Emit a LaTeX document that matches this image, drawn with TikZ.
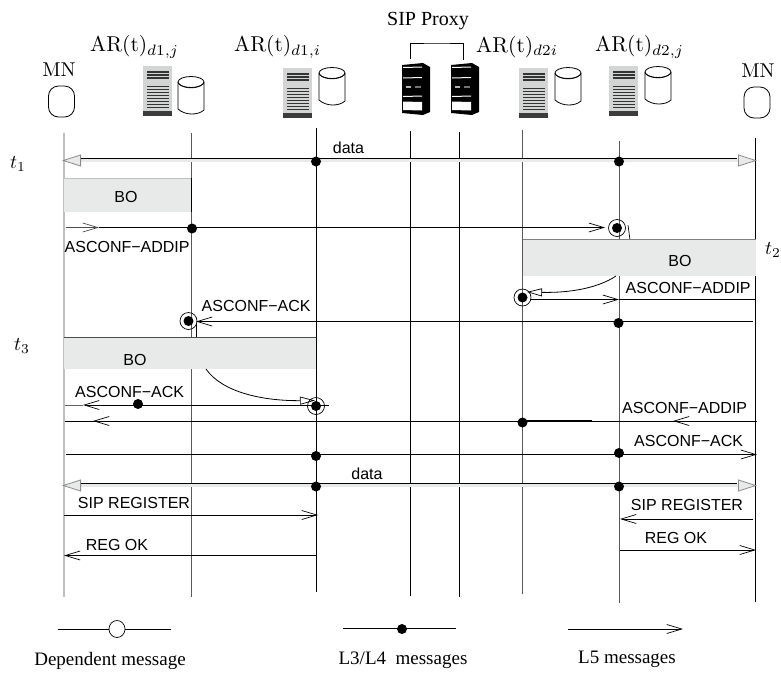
\documentclass[tikz,border=0pt]{standalone}
\usepackage{fontspec}
\usepackage{graphicx}
\usetikzlibrary{arrows.meta,shapes.geometric}
\newfontfamily\arialf{Liberation Sans}
\newfontfamily\timesf{Liberation Serif}
\definecolor{bofill}{HTML}{E8E9E9}
\definecolor{srvlight}{HTML}{D2D5D4}
\definecolor{srvdark}{HTML}{3C3C3C}
\newcommand{\ARlab}[1]{\scalebox{2.15}{AR(t)$_{#1}$}}
\newcommand{\tlab}[1]{\scalebox{1.95}{$t_{#1}$}}
\tikzset{
  every picture/.style={x=1pt,y=1pt},
  life/.style={line width=0.9pt},
  lifeL/.style={line width=1.3pt,color=black!25},
  lifeM/.style={line width=1pt,color=black!65},
  msg/.style={line width=0.8pt},
  open head/.style={-{Straight Barb[length=15pt,width=9pt,line width=0.7pt]}},
  sanslab/.style={font=\arialf\fontsize{16}{18}\selectfont,inner sep=0pt},
  seriflab/.style={font=\timesf\fontsize{19}{22}\selectfont,inner sep=0pt},
  lab/.style={inner sep=0pt},
  dotn/.style={circle,fill=black,minimum width=10pt,minimum height=9pt,inner sep=0pt},
  ringn/.style={circle,draw=black,line width=0.7pt,minimum size=17pt,inner sep=0pt},
  bandline/.style={line width=3.5pt,color=bofill},
  hollowhead/.style={-{Triangle[open,length=15pt,width=8pt,line width=0.7pt]}},
  bigtips/.style={{Triangle[length=19pt,width=12pt,fill=bofill,color=black!45,line width=0.8pt]}-{Triangle[length=19pt,width=12pt,fill=bofill,color=black!45,line width=0.8pt]}},
}
\newcommand{\arserver}[2]{%
  \begin{scope}[shift={(#1,-#2)}]
    \fill[srvlight] (0,0) rectangle (29,-50);
    \fill[srvdark] (0,-45) rectangle (29,-50);
    \foreach \s in {5,8,11,19.5,22.5,25.5,28.5,31.5,34.5,37.5,40.5}
      \fill[black!80] (4,-\s) rectangle (25.5,-\s-1.9);
  \end{scope}}
\newcommand{\arcyl}[2]{%
  \begin{scope}[shift={(#1,-#2)}]
    \draw[line width=0.8pt,fill=white] (0,-6) -- (0,-33) .. controls (7,-39.5) and (20,-39.5) .. (26,-34) -- (26,-6);
    \draw[line width=0.8pt] (13,-6) ellipse [x radius=13,y radius=5.5];
    \draw[line width=0.7pt] (0,-7) .. controls (6,-13.5) and (20,-13.5) .. (26,-7);
  \end{scope}}
\newcommand{\blackrack}[1]{%
  \begin{scope}[shift={(#1,0)}]
    \fill[black] (0,-65) -- (21,-63) -- (28,-67) -- (28,-112) -- (21,-115) -- (0,-113) -- cycle;
    \fill[white] (1,-101.5) -- (20,-102) -- (20,-110.5) -- (1,-110) -- cycle;
    \draw[white,line width=1pt] (1,-67.5) -- (20,-67);
    \draw[white,line width=1pt] (1,-78) -- (20,-77.5);
    \draw[white,line width=1pt] (1,-96.5) -- (20,-96);
    \fill[black!55] (13,-86) rectangle (19,-88);
    \fill[black!30] (4,-86) rectangle (9,-88);
  \end{scope}}
\begin{document}
\begin{tikzpicture}
\useasboundingbox (0,0) rectangle (781,-673);
\foreach \n/\x/\t/\b in {a/64/133/597,b/191/133/597,c/316/128/592,d/410.5/131/596,e/459/132/597,f/522.5/130/594,g/619/141/603,h/755/138/602}{
  \coordinate (\n t) at (\x,-\t);
  \coordinate (\n b) at (\x,-\b);
}
\draw[lifeL] (at) -- (ab);
\draw[lifeM] (bt) -- (bb);
\draw[life] (ct) -- (cb);
\draw[life] (dt) -- (db);
\draw[life] (et) -- (eb);
\draw[lifeM] (ft) -- (fb);
\draw[lifeM] (gt) -- (gb);
\draw[life] (ht) -- (hb);

\arserver{143}{66}\arcyl{178}{76}
\arserver{283}{68}\arcyl{319}{67}
\arserver{519}{68}\arcyl{555}{67}
\arserver{609}{66}\arcyl{645}{66}
\blackrack{402}\blackrack{451}
\coordinate (brA) at (410.5,-59);
\coordinate (brB) at (463.5,-60);
\draw[line width=0.8pt] (brA) |- (437,-43) -| (brB);
\node[draw,line width=0.8pt,minimum width=26pt,minimum height=31pt,rounded corners=10pt,inner sep=0pt] (mnl) at (61.5,-101.5) {};
\node[draw,line width=0.8pt,minimum width=26pt,minimum height=31pt,rounded corners=10pt,inner sep=0pt] (mnr) at (757,-102.5) {};
\node[lab] (mnlt) at (59,-70) {\scalebox{2}{MN}};
\node[lab] (mnrt) at (758,-71) {\scalebox{2}{MN}};
\node[font=\timesf\fontsize{20}{22}\selectfont,inner sep=0pt] (sip) at (428,-21) {SIP Proxy};
\node[lab,anchor=west] (ar1) at (90,-47) {\ARlab{d1,j}};
\node[lab,anchor=west] (ar2) at (234,-47) {\ARlab{d1,i}};
\node[lab,anchor=west] (ar3) at (476,-47) {\ARlab{d2i}};
\node[lab,anchor=west] (ar4) at (595,-47) {\ARlab{d2,j}};
\node[lab] (t1) at (18,-164) {\tlab{1}};
\node[lab] (t2) at (773,-250) {\tlab{2}};
\node[lab] (t3) at (22,-346) {\tlab{3}};

\coordinate (d1l) at (62,-160.5);
\coordinate (d1r) at (757,-160.5);
\draw[bandline,bigtips] (d1l) -- (d1r);
\draw[msg] (81,-158.5) -- (737,-158.5);
\node[dotn] (d1c) at (316,-161.5) {};
\node[dotn] (d1g) at (619,-161.5) {};
\node[sanslab] (data1) at (348.5,-148) {data};

\fill[bofill] (64,-178) rectangle (191,-212);
\draw[black!25,line width=0.7pt] (64,-178) -- (191,-178);
\draw[life] (191,-178) -- (191,-212);
\node[sanslab] (bo1) at (126,-197) {BO};
\coordinate (m1a) at (66,-227.5);
\coordinate (m1b) at (99,-227.5);
\coordinate (m1c) at (605,-227.5);
\coordinate (m1h) at (590,-227.5);
\draw[msg,open head,color=black!70] (m1a) -- (m1b);
\draw[msg] (m1b) -- (m1h);
\draw[msg,open head] (m1h) -- (m1c);
\node[dotn] (m1d) at (192,-228.5) {};
\node[dotn] (m1e) at (617,-228) {};
\node[ringn] (m1r) at (617,-228) {};
\node[sanslab,anchor=west] (l1) at (64.5,-247) {ASCONF−ADDIP};
\draw[line width=0.7pt] (628,-225) -- (630,-240);

\fill[bofill] (522.5,-239.5) rectangle (755.5,-276);
\draw[black!50,line width=0.7pt] (522.5,-239.5) -- (755.5,-239.5);
\node[sanslab] (bo2) at (680,-261) {BO};
\coordinate (c2s) at (616,-276);
\coordinate (c2e) at (527,-292);
\draw[line width=0.8pt,hollowhead] (c2s) .. controls (598,-288) and (570,-293) .. (c2e);
\node[dotn] (m2d) at (522.5,-297.5) {};
\node[ringn] (m2r) at (522.5,-297.5) {};
\coordinate (m2s) at (530,-299.5);
\coordinate (m2g) at (619,-299.5);
\coordinate (m2h) at (755,-299.5);
\draw[msg,open head] (m2s) -- (m2g);
\draw[msg] (m2g) -- (m2h);
\node[sanslab,anchor=west] (l2) at (625.5,-288) {ASCONF−ADDIP};

\coordinate (m3r) at (753,-321.5);
\coordinate (m3l) at (196,-321.5);
\draw[msg,open head] (m3r) -- (m3l);
\node[dotn] (m3g) at (618.5,-323) {};
\node[dotn] (m3d) at (188.5,-321) {};
\node[ringn] (m3o) at (188.5,-321) {};
\node[sanslab,anchor=west] (l3) at (201.5,-306) {ASCONF−ACK};
\draw[line width=0.7pt] (196.5,-324) -- (196.5,-337);

\fill[bofill] (64,-337.5) rectangle (316,-369);
\draw[black!70,line width=0.7pt] (64,-337.5) -- (316,-337.5);
\draw[life] (316,-337.5) -- (316,-369);
\node[sanslab] (bo3) at (135,-360) {BO};
\coordinate (c3s) at (206,-369);
\coordinate (c3e) at (315,-400.5);
\draw[line width=0.8pt,hollowhead] (c3s) .. controls (222,-392) and (262,-401) .. (c3e);
\node[dotn] (m4d) at (316,-406) {};
\node[ringn] (m4o) at (316,-406) {};
\coordinate (m4a) at (98,-405);
\coordinate (m4b) at (83,-405);
\coordinate (m4s) at (329,-405);
\coordinate (m4e) at (65,-405);
\draw[msg] (m4s) -- (m4a);
\draw[msg,open head] (m4a) -- (m4b);
\draw[black!60,line width=0.7pt] (m4b) -- (m4e);
\node[dotn] (m4m) at (138,-404) {};
\node[sanslab,anchor=west] (l4) at (75,-392) {ASCONF−ACK};

\coordinate (m5r) at (757,-421);
\coordinate (m5l) at (65,-421);
\coordinate (m5x) at (522.5,-421);
\coordinate (m5y) at (592,-421);
\coordinate (m5h1) at (108,-421);
\coordinate (m5h2) at (93,-421);
\coordinate (m5h3) at (688,-421);
\coordinate (m5h4) at (673,-421);
\draw[msg] (m5r) -- (m5l);
\draw[msg,open head] (m5h1) -- (m5h2);
\draw[msg,open head] (m5h3) -- (m5h4);
\node[dotn] (m5f) at (522.5,-422.5) {};
\draw[line width=1.2pt] (m5x) -- (m5y);
\node[sanslab,anchor=west] (l5) at (622,-408) {ASCONF−ADDIP};

\coordinate (m6l) at (66,-454.5);
\coordinate (m6r) at (757,-454.5);
\draw[msg,open head] (m6l) -- (m6r);
\node[dotn] (m6c) at (316,-456) {};
\node[dotn] (m6g) at (619,-453) {};
\node[sanslab,anchor=west] (l6) at (634,-441) {ASCONF−ACK};

\coordinate (d2l) at (62,-485.5);
\coordinate (d2r) at (757,-485.5);
\draw[bandline,bigtips] (d2l) -- (d2r);
\draw[msg] (81,-483.5) -- (737,-483.5);
\node[dotn] (d2c) at (316,-486.5) {};
\node[dotn] (d2g) at (619,-486.5) {};
\node[sanslab] (data2) at (367,-474) {data};

\coordinate (r1a) at (64,-515);
\coordinate (r1b) at (318,-515);
\draw[msg,open head] (r1a) -- (r1b);
\node[sanslab] (l7) at (134,-503) {SIP REGISTER};
\coordinate (r2a) at (316,-555.5);
\coordinate (r2b) at (64,-555.5);
\draw[msg,open head] (r2a) -- (r2b);
\node[sanslab] (l8) at (117,-545) {REG OK};
\coordinate (r3a) at (753,-519);
\coordinate (r3b) at (620,-519);
\draw[msg,open head] (r3a) -- (r3b);
\node[sanslab] (l9) at (687,-505) {SIP REGISTER};
\coordinate (r4a) at (620,-550);
\coordinate (r4b) at (756,-550);
\draw[msg,open head] (r4a) -- (r4b);
\node[sanslab] (l10) at (676,-538) {REG OK};

\coordinate (k1a) at (58,-629);
\coordinate (k1b) at (171,-629);
\draw[msg] (k1a) -- (k1b);
\node[draw,ellipse,line width=0.7pt,fill=white,minimum width=16pt,minimum height=17pt,inner sep=0pt] (k1o) at (117,-629) {};
\coordinate (k2a) at (343,-628);
\coordinate (k2b) at (456,-628);
\draw[msg] (k2a) -- (k2b);
\node[dotn] (k2d) at (402,-629) {};
\coordinate (k3a) at (568,-629);
\coordinate (k3b) at (683,-629);
\draw[msg,open head] (k3a) -- (k3b);
\node[seriflab] (k1t) at (110,-661) {Dependent message};
\node[seriflab] (k2t) at (403,-660) {L3/L4\ \ messages};
\node[seriflab] (k3t) at (627,-659) {L5 messages};
\end{tikzpicture}
\end{document}
